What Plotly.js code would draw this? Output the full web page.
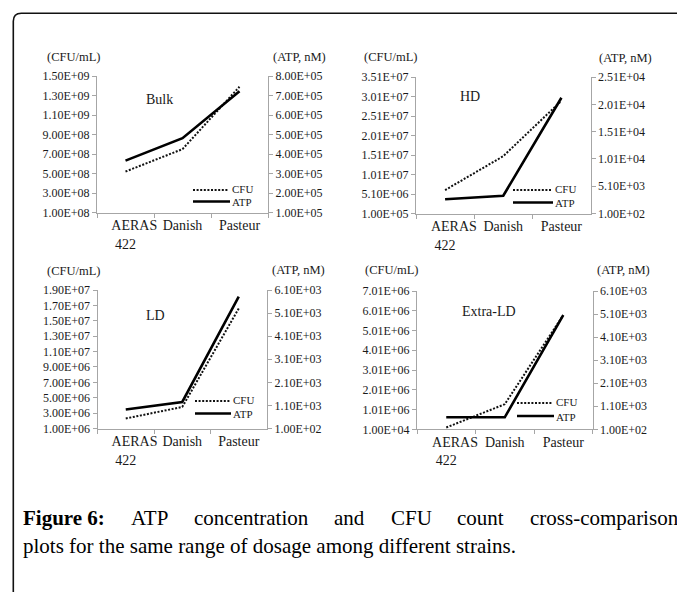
<!DOCTYPE html>
<html>
<head>
<meta charset="utf-8">
<script src="https://cdn.plot.ly/plotly-3.0.1.min.js"></script>
<style>
  html, body { margin: 0; padding: 0; background: #ffffff; }
  #chart { width: 677px; height: 592px; }
</style>
</head>
<body>
<div id="chart"></div>
<script>
// ---- data -----------------------------------------------------------
const strains = ['AERAS 422', 'Danish', 'Pasteur'];
const strainTickText = ['\u00a0\u00a0\u00a0\u00a0\u00a0AERAS<br>422', 'Danish', 'Pasteur'];

const bulkCFU = [5.2e8, 7.5e8, 1.39e9];
const bulkATP = [3.66e5, 4.81e5, 7.22e5];
const hdCFU   = [6.1e6, 1.48e7, 2.9e7];
const hdATP   = [2.7e3, 3.35e3, 2.13e4];
const ldCFU   = [2.3e6, 3.8e6, 1.66e7];
const ldATP   = [9.2e2, 1.25e3, 5.81e3];
const xldCFU  = [1.0e5, 1.28e6, 5.79e6];
const xldATP  = [6.2e2, 6.2e2, 5.05e3];

const bulkCfuTicks = [1e8, 3e8, 5e8, 7e8, 9e8, 1.1e9, 1.3e9, 1.5e9];
const bulkAtpTicks = [1e5, 2e5, 3e5, 4e5, 5e5, 6e5, 7e5, 8e5];
const hdCfuTicks   = [1e5, 5.1e6, 1.01e7, 1.51e7, 2.01e7, 2.51e7, 3.01e7, 3.51e7];
const hdAtpTicks   = [1e2, 5.1e3, 1.01e4, 1.51e4, 2.01e4, 2.51e4];
const ldCfuTicks   = [1e6, 3e6, 5e6, 7e6, 9e6, 1.1e7, 1.3e7, 1.5e7, 1.7e7, 1.9e7];
const ldAtpTicks   = [1e2, 1.1e3, 2.1e3, 3.1e3, 4.1e3, 5.1e3, 6.1e3];
const xldCfuTicks  = [1e4, 1.01e6, 2.01e6, 3.01e6, 4.01e6, 5.01e6, 6.01e6, 7.01e6];
const xldAtpTicks  = [1e2, 1.1e3, 2.1e3, 3.1e3, 4.1e3, 5.1e3, 6.1e3];

const panelNames = ['Bulk', 'HD', 'LD', 'Extra-LD'];
const cfuTitle = '(CFU/mL)';
const atpTitle = '(ATP, nM)';
const captionLead = 'Figure 6:';
const captionLine1 = ['ATP', 'concentration', 'and', 'CFU', 'count', 'cross-comparison'];
const captionLine2 = 'plots for the same range of dosage among different strains.';

// ---- page geometry (pixels) -------------------------------------------
const W = 677, H = 592;
const px = x => x / W;
const py = y => 1 - y / H;

const SERIF = "Liberation Serif, Times New Roman, serif";
const INK = '#1a1a1a';
const AXIS = '#a6a6a6';

// plot boxes: left, right, top, bottom
const boxes = [
  { l: 97,  r: 268,   t: 76,  b: 212.5 },
  { l: 416, r: 590.5, t: 77,  b: 213.5 },
  { l: 97.5, r: 267,  t: 290, b: 428.5 },
  { l: 417, r: 592.5, t: 291, b: 429.3 }
];

const panels = [
  { cfu: bulkCFU, atp: bulkATP, cfuTicks: bulkCfuTicks, atpTicks: bulkAtpTicks, name: panelNames[0],
    label: [159, 100], titles: [[73, 57], [299, 57]], legend: { x0: 193, x1: 229, yc: 190, ya: 201.5 } },
  { cfu: hdCFU, atp: hdATP, cfuTicks: hdCfuTicks, atpTicks: hdAtpTicks, name: panelNames[1],
    label: [470, 97], titles: [[390, 57], [625, 58]], legend: { x0: 513, x1: 552, yc: 190, ya: 202.5 } },
  { cfu: ldCFU, atp: ldATP, cfuTicks: ldCfuTicks, atpTicks: ldAtpTicks, name: panelNames[2],
    label: [155, 315], titles: [[73, 271], [298, 270]], legend: { x0: 195, x1: 230, yc: 401, ya: 413.5 } },
  { cfu: xldCFU, atp: xldATP, cfuTicks: xldCfuTicks, atpTicks: xldAtpTicks, name: panelNames[3],
    label: [489, 312], titles: [[391, 270], [623, 270]], legend: { x0: 517, x1: 553, yc: 403, ya: 416 } }
];

// spreadsheet-style scientific labels, e.g. 1.50E+09
function sci(v) {
  const parts = v.toExponential(2).split('e');
  const exp = parts[1];
  return parts[0] + 'E' + exp[0] + exp.slice(1).padStart(2, '0');
}

const traces = [];
const layout = {
  width: W, height: H,
  margin: { l: 0, r: 0, t: 0, b: 0, pad: 0 },
  paper_bgcolor: '#ffffff',
  plot_bgcolor: 'rgba(0,0,0,0)',
  showlegend: false,
  font: { family: SERIF, color: INK, size: 12 },
  annotations: [],
  shapes: []
};

panels.forEach((p, i) => {
  const bx = boxes[i];
  const n = i + 1;
  const xa = n === 1 ? 'x' : 'x' + n;
  const yl = 'y' + (2 * i + 1 === 1 ? '' : 2 * i + 1);
  const yr = 'y' + (2 * i + 2);
  const xKey = n === 1 ? 'xaxis' : 'xaxis' + n;
  const ylKey = 'yaxis' + (2 * i + 1 === 1 ? '' : 2 * i + 1);
  const yrKey = 'yaxis' + (2 * i + 2);

  const cfuMin = p.cfuTicks[0], cfuMax = p.cfuTicks[p.cfuTicks.length - 1];
  const atpMin = p.atpTicks[0], atpMax = p.atpTicks[p.atpTicks.length - 1];

  traces.push({
    x: strains, y: p.cfu, xaxis: xa, yaxis: yl, type: 'scatter', mode: 'lines', name: 'CFU',
    line: { color: '#111111', width: 2, dash: '2px,1.6px' }, hoverinfo: 'skip'
  });
  traces.push({
    x: strains, y: p.atp, xaxis: xa, yaxis: yr, type: 'scatter', mode: 'lines', name: 'ATP',
    line: { color: '#000000', width: 2.6 }, hoverinfo: 'skip'
  });

  layout[xKey] = {
    domain: [px(bx.l), px(bx.r)],
    anchor: yl,
    type: 'category',
    categoryarray: strains,
    range: [-0.5, 2.5],
    tickmode: 'array',
    tickvals: strains,
    ticktext: strainTickText,
    tickangle: 0,
    tickson: 'boundaries',
    ticks: 'outside', ticklen: 4, tickcolor: AXIS, tickwidth: 1,
    showline: true, linecolor: AXIS, linewidth: 1,
    showgrid: false, zeroline: false,
    tickfont: { family: SERIF, size: 14, color: INK },
    fixedrange: true
  };
  layout[ylKey] = {
    domain: [py(bx.b), py(bx.t)],
    anchor: xa,
    range: [cfuMin, cfuMax],
    tickmode: 'array',
    tickvals: p.cfuTicks,
    ticktext: p.cfuTicks.map(sci),
    ticks: 'outside', ticklen: 4, tickcolor: AXIS, tickwidth: 1,
    showline: true, linecolor: AXIS, linewidth: 1,
    showgrid: false, zeroline: false,
    tickfont: { family: SERIF, size: 12, color: INK },
    fixedrange: true
  };
  layout[yrKey] = {
    domain: [py(bx.b), py(bx.t)],
    anchor: xa,
    overlaying: yl,
    side: 'right',
    range: [atpMin, atpMax],
    tickmode: 'array',
    tickvals: p.atpTicks,
    ticktext: p.atpTicks.map(sci),
    ticks: 'outside', ticklen: 4, tickcolor: AXIS, tickwidth: 1,
    showline: true, linecolor: AXIS, linewidth: 1,
    showgrid: false, zeroline: false,
    tickfont: { family: SERIF, size: 12, color: INK },
    fixedrange: true
  };

  // axis unit headings
  layout.annotations.push({
    xref: 'paper', yref: 'paper', x: px(p.titles[0][0]), y: py(p.titles[0][1]),
    text: cfuTitle, showarrow: false, xanchor: 'center', yanchor: 'middle',
    font: { family: SERIF, size: 12.5, color: INK }
  });
  layout.annotations.push({
    xref: 'paper', yref: 'paper', x: px(p.titles[1][0]), y: py(p.titles[1][1]),
    text: atpTitle, showarrow: false, xanchor: 'center', yanchor: 'middle',
    font: { family: SERIF, size: 12.5, color: INK }
  });
  // panel name
  layout.annotations.push({
    xref: 'paper', yref: 'paper', x: px(p.label[0]), y: py(p.label[1]),
    text: p.name, showarrow: false, xanchor: 'center', yanchor: 'middle',
    font: { family: SERIF, size: 14, color: INK }
  });

  // legend keys
  const lg = p.legend;
  layout.shapes.push({
    type: 'line', xref: 'paper', yref: 'paper',
    x0: px(lg.x0), x1: px(lg.x1), y0: py(lg.yc), y1: py(lg.yc),
    line: { color: '#111111', width: 1.8, dash: '2px,1.6px' }
  });
  layout.shapes.push({
    type: 'line', xref: 'paper', yref: 'paper',
    x0: px(lg.x0), x1: px(lg.x1 + 1), y0: py(lg.ya), y1: py(lg.ya),
    line: { color: '#000000', width: 2.4 }
  });
  layout.annotations.push({
    xref: 'paper', yref: 'paper', x: px(lg.x1 + 1), y: py(lg.yc - 1),
    text: 'CFU', showarrow: false, xanchor: 'left', yanchor: 'middle',
    font: { family: SERIF, size: 11, color: INK }
  });
  layout.annotations.push({
    xref: 'paper', yref: 'paper', x: px(lg.x1 + 1), y: py(lg.ya + 0.5),
    text: 'ATP', showarrow: false, xanchor: 'left', yanchor: 'middle',
    font: { family: SERIF, size: 11, color: INK }
  });
});

// outer frame with a rounded top-left corner
const fx = 13.3, fy = 13.3, rad = 8;
layout.shapes.push({
  type: 'path', xref: 'paper', yref: 'paper',
  path: 'M ' + px(fx) + ',' + py(H + 10) +
        ' L ' + px(fx) + ',' + py(fy + rad) +
        ' Q ' + px(fx) + ',' + py(fy) + ' ' + px(fx + rad) + ',' + py(fy) +
        ' L ' + px(W + 10) + ',' + py(fy),
  line: { color: '#111111', width: 1.6 }
});

// caption: first line justified between the margins, second line left aligned
const capSize = 21;
const capLeft = 21, capRight = 676;
const cv = document.createElement('canvas').getContext('2d');
function textWidth(t, bold) {
  cv.font = (bold ? 'bold ' : '') + capSize + "px 'Liberation Serif'";
  return cv.measureText(t).width;
}
const words = [{ t: captionLead, b: true }].concat(captionLine1.map(t => ({ t: t, b: false })));
const widths = words.map(w => textWidth(w.t, w.b));
const total = widths.reduce((a, b) => a + b, 0);
const gap = (capRight - capLeft - total) / (words.length - 1);
let cx = capLeft;
words.forEach((w, k) => {
  layout.annotations.push({
    xref: 'paper', yref: 'paper', x: px(cx), y: py(518),
    text: w.b ? '<b>' + w.t + '</b>' : w.t,
    showarrow: false, xanchor: 'left', yanchor: 'middle',
    font: { family: SERIF, size: capSize, color: '#000000' }
  });
  cx += widths[k] + gap;
});
layout.annotations.push({
  xref: 'paper', yref: 'paper', x: px(capLeft), y: py(546),
  text: captionLine2, showarrow: false, xanchor: 'left', yanchor: 'middle',
  font: { family: SERIF, size: capSize, color: '#000000' }
});

Plotly.newPlot('chart', traces, layout, { staticPlot: true, displayModeBar: false });
</script>
</body>
</html>
